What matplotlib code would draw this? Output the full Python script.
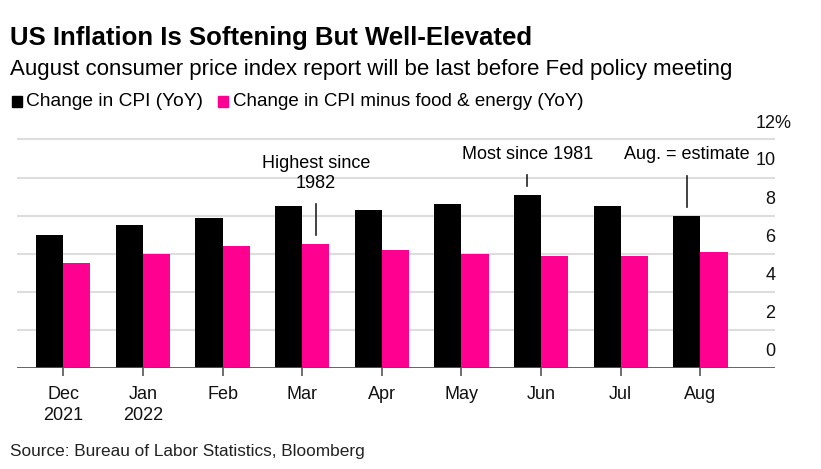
import matplotlib
matplotlib.use("Agg")
import matplotlib.pyplot as plt
from matplotlib import font_manager

# Data
months = ["Dec\n2021", "Jan\n2022", "Feb", "Mar", "Apr", "May", "Jun", "Jul", "Aug"]
cpi = [7.0, 7.5, 7.9, 8.5, 8.3, 8.6, 9.1, 8.5, 8.0]
core_cpi = [5.5, 6.0, 6.4, 6.5, 6.2, 6.0, 5.9, 5.9, 6.1]
y_ticks = [0, 2, 4, 6, 8, 10, 12]

BLACK = "#000000"
PINK = "#ff0090"
GRID = "#dddddd"
AXIS = "#555555"

# Pick a narrow font if one is installed
installed = {f.name for f in font_manager.fontManager.ttflist}
base_font = "Liberation Sans Narrow" if "Liberation Sans Narrow" in installed else "Liberation Sans"
plt.rcParams["font.family"] = [base_font, "DejaVu Sans"]

fig = plt.figure(figsize=(8.21, 4.69), dpi=100)
ax = fig.add_axes([0.0203, 0.2147, 0.924, 0.5004])

w = 0.342
x = list(range(len(months)))
ax.bar([i - w / 2 for i in x], cpi, width=w, color=BLACK, zorder=3)
ax.bar([i + w / 2 for i in x], core_cpi, width=w, color=PINK, zorder=3)

ax.set_xlim(-0.585, 8.94)
ax.set_ylim(0, 12.3)

# Gridlines
for t in y_ticks[1:]:
    ax.axhline(t, color=GRID, lw=1.5, zorder=1)
ax.axhline(0, color=AXIS, lw=2, zorder=4)

for s in ax.spines.values():
    s.set_visible(False)
ax.set_yticks([])
ax.set_xticks(x)
ax.set_xticklabels(months, fontsize=13, color="#111111", linespacing=1.3)
ax.tick_params(axis="x", length=6, width=1.2, color=AXIS, pad=7)

# Right-hand value labels sit above their gridlines
for t in y_ticks[:-1]:
    ax.text(1.0, t + 0.87, str(t), transform=ax.get_yaxis_transform(),
            ha="right", va="center", fontsize=13, color="#111111")
fig.text(756 / 821, 1 - 124 / 469, f"{y_ticks[-1]}%", ha="left", va="center",
         fontsize=13, color="#111111")

# Annotations
ax.plot([3 + w / 2, 3 + w / 2], [7.0, 8.6], color="#222222", lw=1.2, zorder=5)
ax.text(3 + w / 2, 10.2, "Highest since\n1982", ha="center", va="center",
        fontsize=13, linespacing=1.25)
ax.plot([6 - w / 2, 6 - w / 2], [9.55, 10.13], color="#222222", lw=1.2, zorder=5)
ax.text(6 - w / 2, 11.18, "Most since 1981", ha="center", va="center", fontsize=13)
ax.plot([8 - w / 2, 8 - w / 2], [8.47, 10.1], color="#222222", lw=1.2, zorder=5)
ax.text(8 - w / 2, 11.18, "Aug. = estimate", ha="center", va="center", fontsize=13)

# Title, subtitle, legend and source
fig.text(0.0122, 1 - 38 / 469, "US Inflation Is Softening But Well-Elevated",
         fontsize=18.5, fontweight="bold", va="center", ha="left")
fig.text(0.0122, 1 - 69 / 469, "August consumer price index report will be last before Fed policy meeting",
         fontsize=16, va="center", ha="left")

fig.patches.append(plt.Rectangle((12 / 821, 1 - 107 / 469), 10 / 821, 11 / 469,
                                 transform=fig.transFigure, color=BLACK))
fig.text(26 / 821, 1 - 101 / 469, "Change in CPI (YoY)", fontsize=13.8, va="center")
fig.patches.append(plt.Rectangle((218 / 821, 1 - 107 / 469), 10 / 821, 11 / 469,
                                 transform=fig.transFigure, color=PINK))
fig.text(233 / 821, 1 - 101 / 469, "Change in CPI minus food & energy (YoY)",
         fontsize=13.5, va="center")

fig.text(0.0122, 1 - 451 / 469, "Source: Bureau of Labor Statistics, Bloomberg",
         fontsize=12.4, va="center", color="#222222")

fig.savefig("out.png", dpi=100)
